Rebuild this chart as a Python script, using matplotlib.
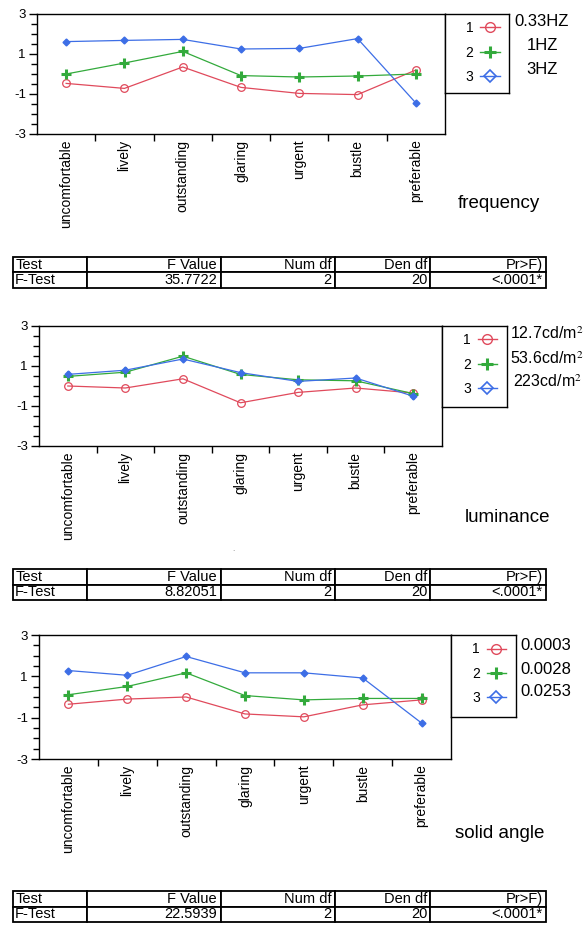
import numpy as np
import matplotlib.pyplot as plt
from matplotlib.lines import Line2D
from matplotlib.ticker import FixedLocator, MultipleLocator, NullFormatter

plt.rcParams['font.family'] = ['Liberation Sans', 'DejaVu Sans']
plt.rcParams['axes.unicode_minus'] = False
plt.rcParams['mathtext.fontset'] = 'stix'

# ===============================
# DATA
# ===============================
categories = ['uncomfortable', 'lively', 'outstanding', 'glaring',
              'urgent', 'bustle', 'preferable']
levels = ['1', '2', '3']
table_header = ['Test', 'F Value', 'Num df', 'Den df', 'Pr>F)']

freq_1 = [-0.47, -0.72, 0.35, -0.67, -0.97, -1.03, 0.20]
freq_2 = [0.00, 0.55, 1.13, -0.08, -0.15, -0.10, 0.00]
freq_3 = [1.62, 1.68, 1.73, 1.25, 1.28, 1.77, -1.45]
freq_labels = ['0.33HZ', '1HZ', '3HZ']
freq_row = ['F-Test', '35.7722', '2', '20', '<.0001*']

lum_1 = [0.00, -0.10, 0.36, -0.84, -0.32, -0.10, -0.35]
lum_2 = [0.48, 0.69, 1.49, 0.58, 0.31, 0.26, -0.38]
lum_3 = [0.58, 0.79, 1.35, 0.67, 0.23, 0.40, -0.51]
lum_labels = ['12.7cd/m$^2$', '53.6cd/m$^2$', '223cd/m$^2$']
lum_row = ['F-Test', '8.82051', '2', '20', '<.0001*']

solid_1 = [-0.35, -0.10, 0.00, -0.82, -0.96, -0.38, -0.14]
solid_2 = [0.11, 0.51, 1.17, 0.07, -0.14, -0.07, -0.07]
solid_3 = [1.28, 1.05, 1.96, 1.17, 1.17, 0.92, -1.26]
solid_labels = ['0.0003', '0.0028', '0.0253']
solid_row = ['F-Test', '22.5939', '2', '20', '<.0001*']

RED = '#e04a5c'
GREEN = '#33aa3c'
BLUE = '#3d6ee6'

# ===============================
# LAYOUT (pixels)
# ===============================
W, H = 586, 925
fig = plt.figure(figsize=(W / 100, H / 100), dpi=100)


def box(left, top, right, bottom):
    return [left / W, 1 - bottom / H, (right - left) / W, (bottom - top) / H]


def panel(series, labels, row, name, ax_px, leg_px, lab_x, lab_y, name_px, tab_px,
          lab_size=12):
    l, t, r, b = ax_px
    ax = fig.add_axes(box(l, t, r, b))
    x = np.arange(len(categories))
    ax.plot(x, series[0], color=RED, lw=0.9, marker='o', ms=5.5,
            mfc='none', mec=RED, mew=0.9)
    ax.plot(x, series[1], color=GREEN, lw=0.9, marker='+', ms=7, mew=2.2)
    ax.plot(x, series[2], color=BLUE, lw=0.9, marker='D', ms=3.5,
            mfc=BLUE, mec=BLUE)
    ax.set_xlim(-0.5, len(categories) - 0.5)
    ax.set_ylim(-3, 3)
    ax.yaxis.set_major_locator(FixedLocator([-3, -1, 1, 3]))
    ax.yaxis.set_minor_locator(MultipleLocator(0.5))
    ax.tick_params(axis='y', which='major', length=6, width=1, labelsize=9.5, pad=2)
    ax.tick_params(axis='y', which='minor', length=4, width=1)
    ax.xaxis.set_major_locator(FixedLocator(x[:-1] + 0.5))
    ax.xaxis.set_major_formatter(NullFormatter())
    ax.xaxis.set_minor_locator(FixedLocator(x))
    ax.set_xticklabels(categories, minor=True, rotation=90, fontsize=10)
    ax.tick_params(axis='x', which='major', length=5, width=1)
    ax.tick_params(axis='x', which='minor', length=0, pad=4)
    for s in ax.spines.values():
        s.set_linewidth(1)

    # legend box
    lax = fig.add_axes(box(r, t, leg_px[0], leg_px[1]))
    lax.set_xticks([])
    lax.set_yticks([])
    for s in lax.spines.values():
        s.set_linewidth(1)
    handles = [
        Line2D([], [], color=RED, lw=1, marker='o', ms=7, mfc='none', mec=RED, mew=1),
        Line2D([], [], color=GREEN, lw=1, marker='+', ms=8, mew=2.2),
        Line2D([], [], color=BLUE, lw=1, marker='D', ms=6, mfc='none', mec=BLUE, mew=1.2),
    ]
    lax.legend(handles, levels, loc='upper left', bbox_to_anchor=(0.32, 0.91),
               frameon=False, markerfirst=False, fontsize=10, borderpad=0,
               borderaxespad=0, handlelength=1.4, handletextpad=0.5,
               labelspacing=0.75)

    for txt, yy in zip(labels, lab_y):
        fig.text(lab_x / W, 1 - yy / H, txt, ha='center', va='center',
                 fontsize=lab_size)

    fig.text(name_px[0] / W, 1 - name_px[1] / H, name, ha='left', va='center',
             fontsize=13.5)

    # F-test table
    tl, tt, tr, tb = tab_px
    tax = fig.add_axes(box(tl, tt, tr, tb))
    tax.axis('off')
    widths = np.array([74, 134, 114, 95, 116], dtype=float)
    tab = tax.table(cellText=[table_header, row], colWidths=widths / widths.sum(),
                    cellLoc='right', bbox=[0, 0, 1, 1])
    tab.auto_set_font_size(False)
    tab.set_fontsize(10.5)
    for (i, j), cell in tab.get_celld().items():
        cell.set_linewidth(1.3)
        cell.PAD = 0.03
        if j == 0:
            cell._loc = 'left'
            cell._text.set_ha('left')
    return ax


panel([freq_1, freq_2, freq_3], freq_labels, freq_row, 'frequency',
      (37, 14, 445, 134), (509, 93), 542, [22, 46, 69], (458, 203), (13, 257, 546, 288))

panel([lum_1, lum_2, lum_3], lum_labels, lum_row, 'luminance',
      (39, 326, 442, 446), (507, 407), 547, [334, 359, 382], (465, 518), (13, 569, 546, 600),
      lab_size=11.5)

panel([solid_1, solid_2, solid_3], solid_labels, solid_row, 'solid angle',
      (39, 635, 451, 759), (516, 717), 546, [645, 669, 692], (455, 833), (13, 891, 546, 922))

fig.text(233 / W, 1 - 551 / H, '.', fontsize=6, color='#777777', ha='center')

fig.savefig('out.png', dpi=100)
